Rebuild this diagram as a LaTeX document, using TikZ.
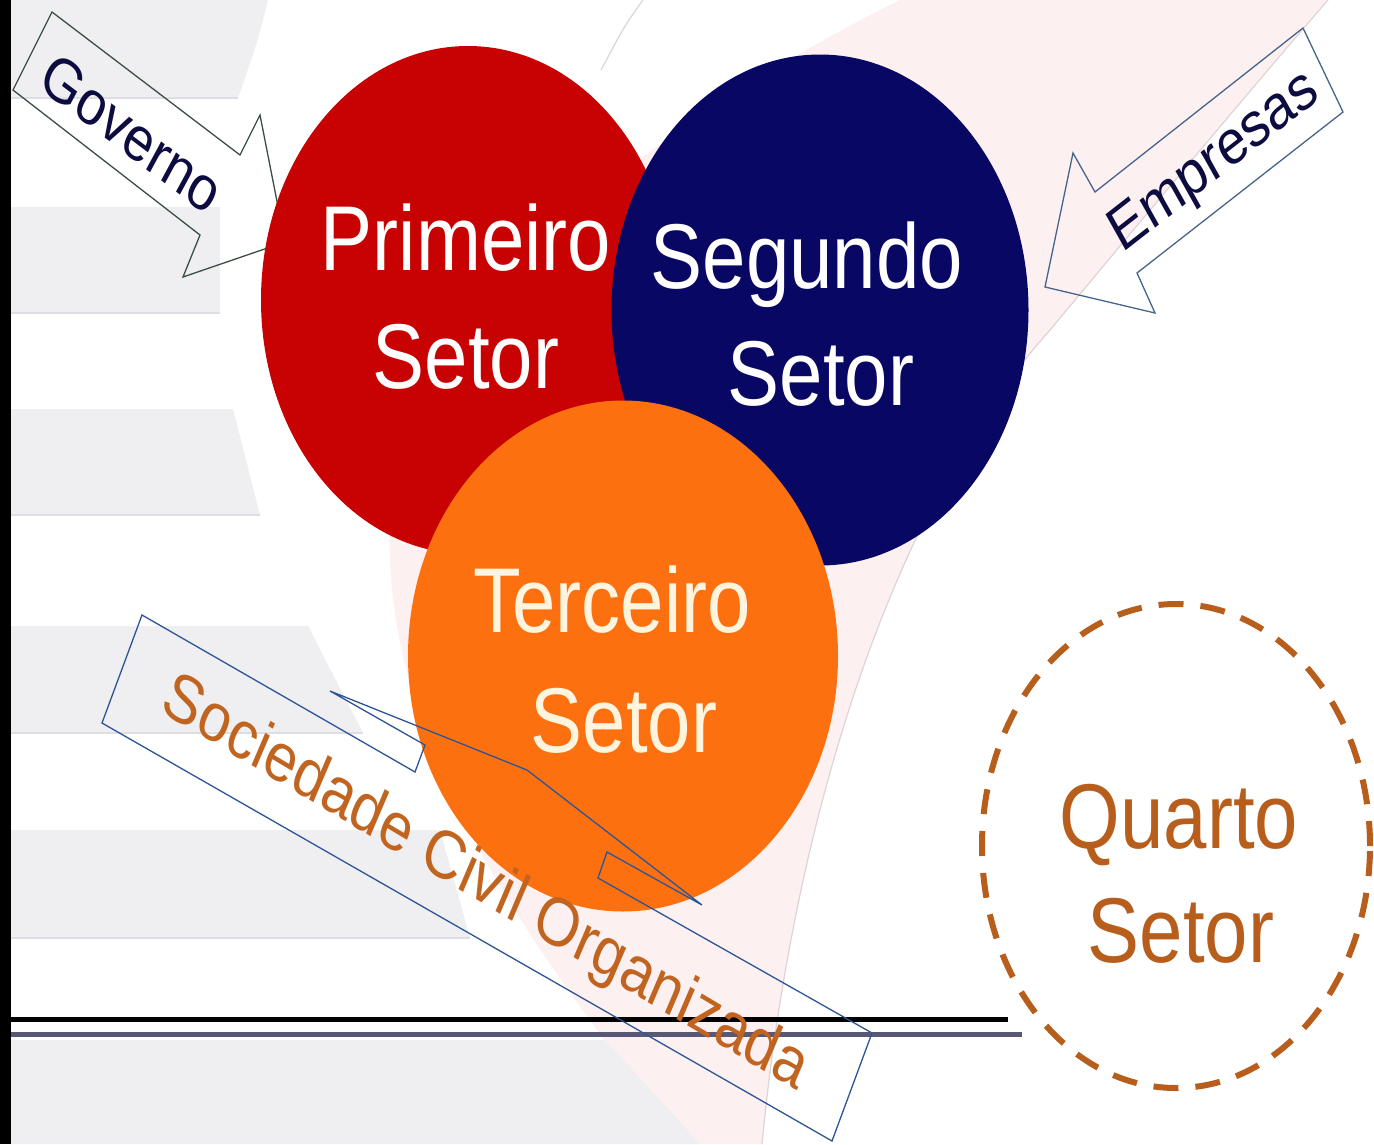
\documentclass[tikz,border=0pt]{standalone}
\usepackage{fontspec}
\setmainfont{Liberation Sans}
\usetikzlibrary{shapes.geometric}
\definecolor{redc}{RGB}{200,2,2}
\definecolor{navyc}{RGB}{8,8,100}
\definecolor{orangec}{RGB}{252,112,16}
\definecolor{brownc}{RGB}{184,94,28}
\definecolor{socc}{RGB}{192,100,32}
\definecolor{labc}{RGB}{12,12,64}
\definecolor{bandc}{RGB}{239,239,241}
\definecolor{bandedge}{RGB}{222,222,226}
\definecolor{pinkc}{RGB}{252,240,240}
\definecolor{swooshc}{RGB}{222,212,216}
\definecolor{creamc}{RGB}{255,244,222}
\definecolor{govc}{RGB}{60,78,66}
\definecolor{empc}{RGB}{70,100,140}
\definecolor{sboxc}{RGB}{45,85,150}
\definecolor{line2c}{RGB}{88,88,118}
\begin{document}
\begin{tikzpicture}[x=1pt,y=-1pt,
  band/.style={fill=bandc},
  sector/.style={ellipse, inner sep=0pt, draw=none},
  ctext/.style={anchor=base, inner sep=0pt, font=\fontsize{78}{80}\selectfont, yscale=1.18},
  sidelabel/.style={inner sep=0pt, font=\fontsize{53}{56}\selectfont, text=labc},
  blockarrow/.style={draw, line width=1.3pt, line join=miter}
]
\useasboundingbox (0,0) rectangle (1374,1144);
\fill[white] (0,0) rectangle (1374,1144);

% pink swoosh
\fill[pinkc] (900,0) .. controls (600,150) and (380,350) .. (390,560)
  .. controls (400,800) and (580,1000) .. (680,1144) -- (762,1144)
  .. controls (790,850) and (880,520) .. (1050,330)
  .. controls (1150,210) and (1250,90) .. (1328,0) -- cycle;
\draw[swooshc, line width=1.2pt] (762,1144) .. controls (790,850) and (880,520) .. (1050,330)
  .. controls (1150,210) and (1250,90) .. (1328,0);
\draw[swooshc, line width=1.2pt] (643,0) .. controls (625,25) .. (601,70);

% grey bands
\fill[band] (11,0) -- (268,0) .. controls (258,40) .. (238,98) -- (11,98) -- cycle;
\fill[band] (11,207) -- (220,207) -- (220,313) -- (11,313) -- cycle;
\fill[band] (11,409) -- (233,409) -- (260,515) -- (11,515) -- cycle;
\fill[band] (11,626) -- (308,626) -- (363,733) -- (11,733) -- cycle;
\fill[band] (11,830) -- (440,830) -- (470,938) -- (11,938) -- cycle;
\fill[band] (11,1040) -- (605,1040) -- (700,1144) -- (11,1144) -- cycle;
\draw[bandedge, line width=1.5pt] (11,98) -- (238,98);
\draw[bandedge, line width=1.5pt] (11,313) -- (220,313);
\draw[bandedge, line width=1.5pt] (11,515) -- (260,515);
\draw[bandedge, line width=1.5pt] (11,733) -- (363,733);
\draw[bandedge, line width=1.5pt] (11,938) -- (470,938);

% left bar and bottom rules
\fill[black] (0,0) rectangle (11,1144);
\draw[black, line width=5pt] (11,1019) -- (1008,1019);
\draw[line2c, line width=5pt] (11,1034) -- (1022,1034);

% block arrows (no fill)
\draw[blockarrow, govc] (52,12) -- (240,155) -- (260,115) -- (285,242) -- (183,277) -- (200,235) -- (13,90) -- cycle;
\draw[blockarrow, empc] (1303,28) -- (1343,112) -- (1137,273) -- (1155,313) -- (1045,287) -- (1073,153) -- (1095,192) -- cycle;

% sectors
\node[sector, fill=redc, minimum width=414pt, minimum height=508pt] (primeiro) at (468,300) {};
\node[sector, fill=navyc, minimum width=417pt, minimum height=511pt] (segundo) at (820,310) {};
\node[sector, fill=orangec, minimum width=430pt, minimum height=511pt] (terceiro) at (623,656) {};

\node[ctext, text=white] (p1) at (466,270) {Primeiro};
\node[ctext, text=white] (p2) at (466,388) {Setor};
\node[ctext, text=white] (s1) at (807,288) {Segundo};
\node[ctext, text=white] (s2) at (821,405) {Setor};
\node[ctext, text=creamc] (t1) at (612,632) {Terceiro};
\node[ctext, text=creamc] (t2) at (624,752) {Setor};

% side labels
\node[sidelabel, yscale=1.18, rotate=-32.6] (governo) at (132,133) {Governo};
\node[sidelabel, yscale=1.18, rotate=33.5] (empresas) at (1215,163) {Empresas};

% Sociedade callout
\draw[sboxc, line width=1.3pt, line join=miter] (142,615) -- (415,772) -- (425,745) -- (330,691)
  -- (527,770) -- (702,905) -- (607,852) -- (598,878) -- (872,1033) -- (832,1141) -- (102,723) -- cycle;
\node[inner sep=0pt, font=\fontsize{58}{60}\selectfont, text=socc, yscale=1.18, rotate=-26.8] (sociedade) at (485,885) {Sociedade Civil Organizada};

% Quarto setor
\node[sector, draw=brownc, line width=6pt, dash pattern=on 25pt off 17pt, minimum width=388pt, minimum height=484pt] (quarto) at (1176,846) {};
\node[ctext, text=brownc] (q1) at (1179,848) {Quarto};
\node[ctext, text=brownc] (q2) at (1181,962) {Setor};
\end{tikzpicture}
\end{document}
